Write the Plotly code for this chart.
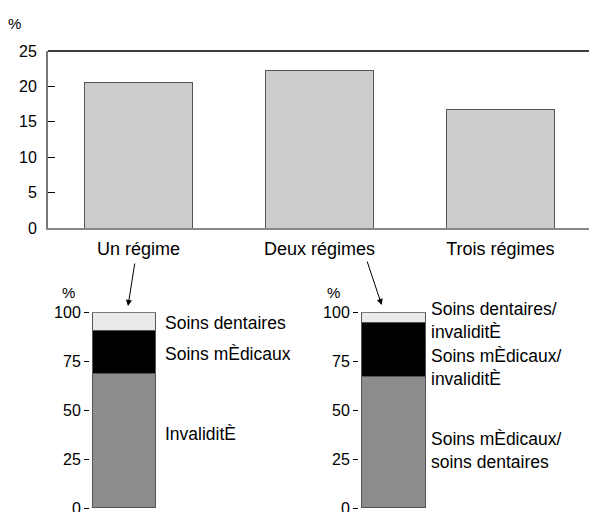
import plotly.graph_objects as go

# ---- data ----
categories = ["Un régime", "Deux régimes", "Trois régimes"]
share_pct = [20.5, 22.2, 16.7]

one_labels = ["InvaliditÈ", "Soins mÈdicaux", "Soins dentaires"]
one_values = [68.5, 22.3, 9.2]

two_labels = ["Soins mÈdicaux/<br>soins dentaires", "Soins mÈdicaux/<br>invaliditÈ", "Soins dentaires/<br>invaliditÈ"]
two_values = [67.3, 27.4, 5.3]

top_ticks = [0, 5, 10, 15, 20, 25]
bottom_ticks = [0, 25, 50, 75, 100]

seg_colors = ["#8c8c8c", "#000000", "#eaeaea"]

# label anchor heights (layout, in axis units)
one_label_y = [37.8, 78.6, 94.5]
two_label_y = [29.2, 71.8, 95.9]

W, H = 589, 512
def px(x):
    return x / W
def py(y):
    return 1 - y / H

FONT = "Liberation Sans, Arial, sans-serif"

fig = go.Figure()

fig.add_trace(go.Bar(x=list(range(len(categories))), y=share_pct, width=0.6,
                     marker=dict(color="#cccccc", line=dict(color="#555555", width=1)),
                     xaxis="x", yaxis="y", showlegend=False, hoverinfo="skip"))

for v, c in zip(one_values, seg_colors):
    fig.add_trace(go.Bar(x=[0], y=[v], width=0.93,
                         marker=dict(color=c, line=dict(color="#555555", width=1)),
                         xaxis="x2", yaxis="y2", showlegend=False, hoverinfo="skip"))
for v, c in zip(two_values, seg_colors):
    fig.add_trace(go.Bar(x=[0], y=[v], width=0.92,
                         marker=dict(color=c, line=dict(color="#555555", width=1)),
                         xaxis="x3", yaxis="y3", showlegend=False, hoverinfo="skip"))

tickfont = dict(family=FONT, size=16, color="#000")

fig.update_layout(
    width=W, height=H, margin=dict(l=0, r=0, t=0, b=0, autoexpand=False),
    paper_bgcolor="white", plot_bgcolor="white",
    barmode="stack", font=dict(family=FONT, size=16, color="#000"),
    xaxis=dict(domain=[px(48), px(589)], range=[-0.5, 2.49], automargin=False,
               tickvals=list(range(len(categories))), ticktext=categories,
               ticks="", showline=True, linecolor="#888888", linewidth=2,
               showgrid=False, zeroline=False, tickfont=dict(family=FONT, size=18),
               ticklabelstandoff=3, anchor="y", fixedrange=True),
    yaxis=dict(domain=[py(228), py(51)], range=[0, 25], tickvals=top_ticks, automargin=False,
               ticks="inside", ticklen=7, tickcolor="#000", tickwidth=1,
               showline=True, linecolor="#777777", linewidth=2,
               showgrid=False, zeroline=False, tickfont=tickfont,
               ticklabelstandoff=6, anchor="x"),
    xaxis2=dict(domain=[px(90), px(158)], range=[-0.5, 0.5], showticklabels=False, automargin=False,
                ticks="", showline=False, showgrid=False, zeroline=False, anchor="y2"),
    yaxis2=dict(domain=[py(508), py(312.3)], range=[0, 100], tickvals=bottom_ticks, automargin=False,
                ticks="outside", ticklen=5, tickcolor="#000", tickwidth=1,
                showline=False, showgrid=False, zeroline=False, tickfont=tickfont,
                ticklabeloverflow="allow", anchor="x2"),
    xaxis3=dict(domain=[px(359), px(428)], range=[-0.5, 0.5], showticklabels=False, automargin=False,
                ticks="", showline=False, showgrid=False, zeroline=False, anchor="y3"),
    yaxis3=dict(domain=[py(508), py(312.3)], range=[0, 100], tickvals=bottom_ticks, automargin=False,
                ticks="outside", ticklen=5, tickcolor="#000", tickwidth=1,
                showline=False, showgrid=False, zeroline=False, tickfont=tickfont,
                ticklabeloverflow="allow", anchor="x3"),
)

# top frame line
fig.add_shape(type="line", xref="x domain", yref="y domain", x0=0, x1=1, y0=1, y1=1,
              line=dict(color="#000", width=1.5))

ann = []
# % labels
for (xx, yy) in [(14, 23), (68, 292), (333, 292)]:
    ann.append(dict(text="%", xref="paper", yref="paper", x=px(xx), y=py(yy),
                    showarrow=False, xanchor="center", yanchor="middle",
                    font=dict(family=FONT, size=15)))
# segment labels
for lab, yv in zip(one_labels, one_label_y):
    ann.append(dict(text=lab, xref="x2 domain", yref="y2", x=1, y=yv, xshift=5,
                    showarrow=False, xanchor="left", yanchor="middle", align="left",
                    font=dict(family=FONT, size=17.5)))
for lab, yv in zip(two_labels, two_label_y):
    ann.append(dict(text=lab, xref="x3 domain", yref="y3", x=1, y=yv, xshift=1,
                    showarrow=False, xanchor="left", yanchor="middle", align="left",
                    font=dict(family=FONT, size=17.5)))
# arrows
ann.append(dict(text="", xref="paper", yref="paper", x=px(128), y=py(306),
                ax=7, ay=-44, showarrow=True, arrowhead=2, arrowsize=1.2,
                arrowwidth=1, arrowcolor="#000"))
ann.append(dict(text="", xref="paper", yref="paper", x=px(381.7), y=py(305),
                ax=-15, ay=-45, showarrow=True, arrowhead=2, arrowsize=1.2,
                arrowwidth=1, arrowcolor="#000"))
fig.update_layout(annotations=ann)

fig.write_html("out.html", config={"displayModeBar": False},
               post_script="document.body.style.margin='0';document.body.style.overflow='hidden';")
